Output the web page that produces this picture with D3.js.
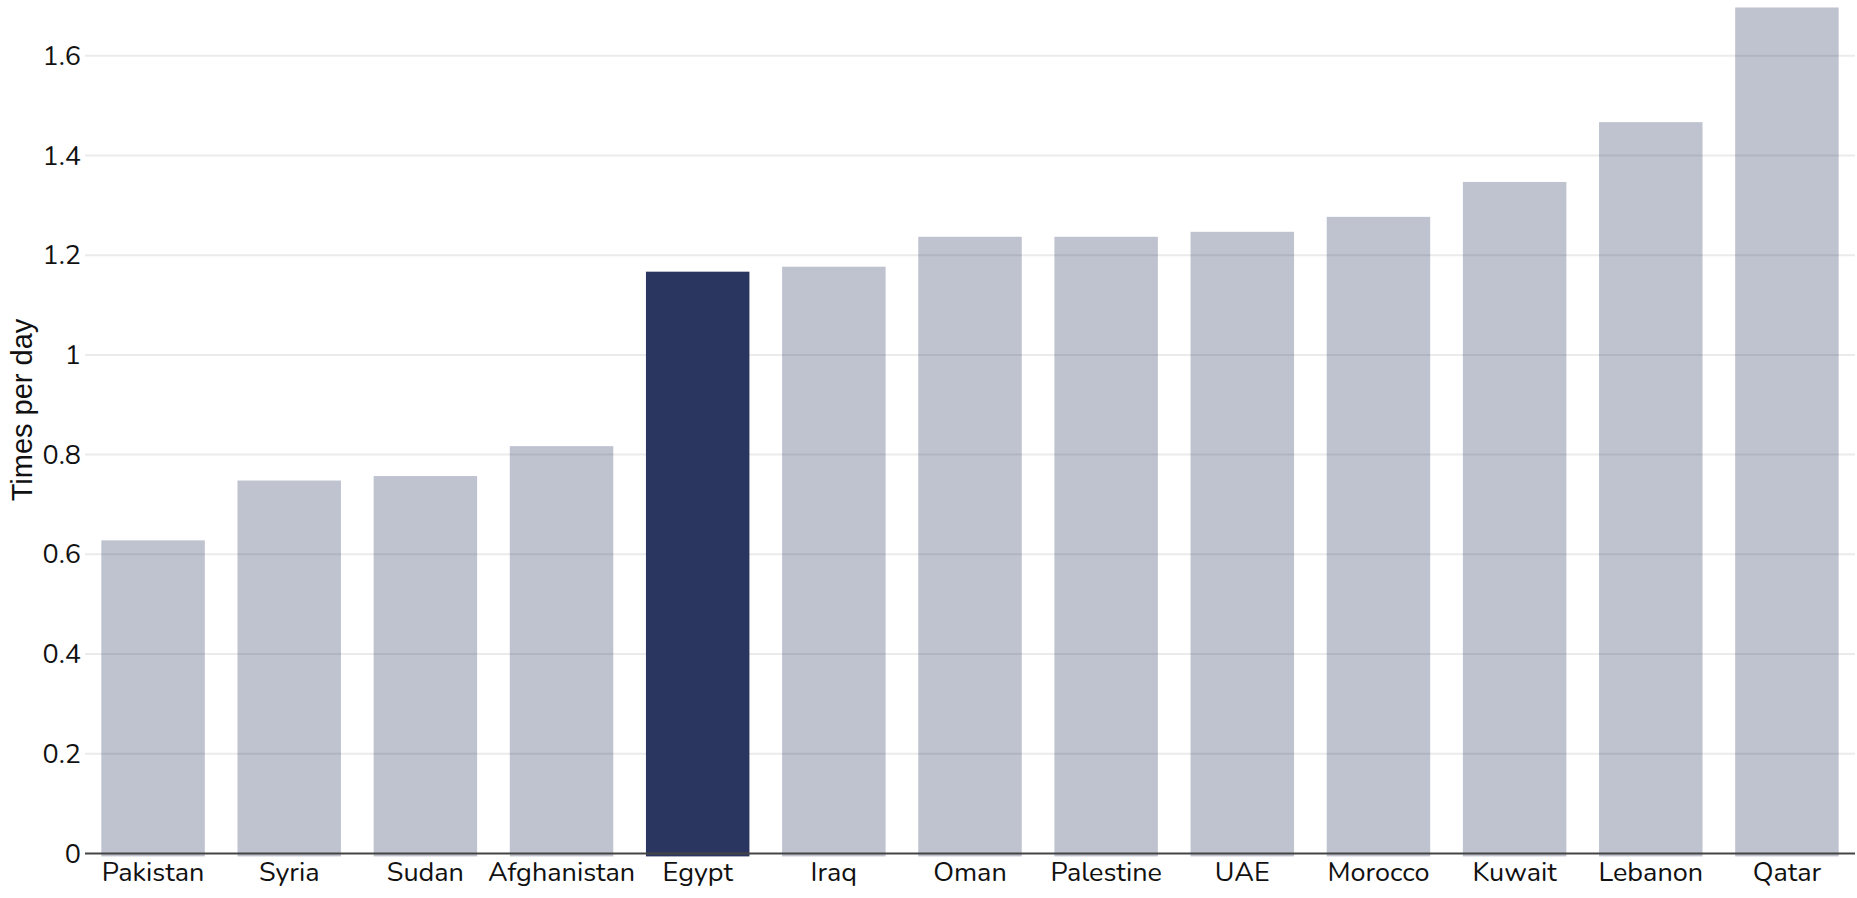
<!DOCTYPE html>
<html>
  <head>
    <meta charset="utf-8">
    <title>Times per day</title>
    <script src="https://d3js.org/d3.v7.min.js"></script>
    <style>
      body { margin: 0; background: #fff; }
      .tick text { font-family: Nunito, "Open Sans", sans-serif; font-size: 27px; fill: #111; }
    </style>
  </head>
  <body>
    <div id="chart"></div>
    <script>
      // data
      var countries = ["Pakistan", "Syria", "Sudan", "Afghanistan", "Egypt", "Iraq", "Oman",
                       "Palestine", "UAE", "Morocco", "Kuwait", "Lebanon", "Qatar"];
      var timesPerDay = [0.628, 0.748, 0.757, 0.817, 1.167, 1.177, 1.237, 1.237, 1.247, 1.277, 1.347, 1.467, 1.697];
      var yTicks = [0, 0.2, 0.4, 0.6, 0.8, 1, 1.2, 1.4, 1.6];
      var highlight = "Egypt";

      var width = 1857;
      var height = 898;
      var margin = { top: 6, right: 2, bottom: 44.6, left: 85 };

      var svg = d3.select("#chart")
        .append("svg")
        .attr("width", width)
        .attr("height", height);

      var x = d3.scaleBand()
        .domain(countries)
        .range([margin.left, width - margin.right])
        .paddingInner(0.24)
        .paddingOuter(0.12);

      var y = d3.scaleLinear()
        .domain([0, 1.7])
        .range([height - margin.bottom, margin.top]);

      // grid lines
      svg.append("g")
        .selectAll("line")
        .data(yTicks.slice(1))
        .enter()
        .append("line")
        .attr("x1", margin.left)
        .attr("x2", width - margin.right)
        .attr("y1", function(d) { return y(d); })
        .attr("y2", function(d) { return y(d); })
        .style("stroke", "#ebebeb")
        .style("stroke-width", 2);

      // bars
      svg.append("g")
        .selectAll("rect")
        .data(countries)
        .enter()
        .append("rect")
        .attr("x", function(d) { return x(d); })
        .attr("width", x.bandwidth())
        .attr("y", function(d, i) { return y(timesPerDay[i]); })
        .attr("height", function(d, i) { return y(0) - y(timesPerDay[i]) + 3; })
        .style("fill", "#2a3660")
        .style("fill-opacity", function(d) { return d === highlight ? 1 : 0.3; });

      // zero line
      svg.append("line")
        .attr("x1", margin.left)
        .attr("x2", width - margin.right)
        .attr("y1", y(0))
        .attr("y2", y(0))
        .style("stroke", "#444")
        .style("stroke-width", 2);

      // y axis
      var yAxis = svg.append("g")
        .attr("transform", "translate(" + margin.left + ",0)")
        .call(d3.axisLeft(y).tickValues(yTicks).tickSize(0).tickPadding(4)
          .tickFormat(function(d) { return d3.format("~g")(d); }));
      yAxis.select(".domain").remove();

      // x axis
      var xAxis = svg.append("g")
        .attr("transform", "translate(0," + y(0) + ")")
        .call(d3.axisBottom(x).tickSize(0).tickPadding(8));
      xAxis.select(".domain").remove();

      // y axis title
      svg.append("text")
        .attr("transform", "translate(32," + 410 + ") rotate(-90)")
        .attr("text-anchor", "middle")
        .style("font-family", "'Liberation Sans', Arial, sans-serif")
        .style("font-size", "29px")
        .style("fill", "#111")
        .text("Times per day");
    </script>
  </body>
</html>
